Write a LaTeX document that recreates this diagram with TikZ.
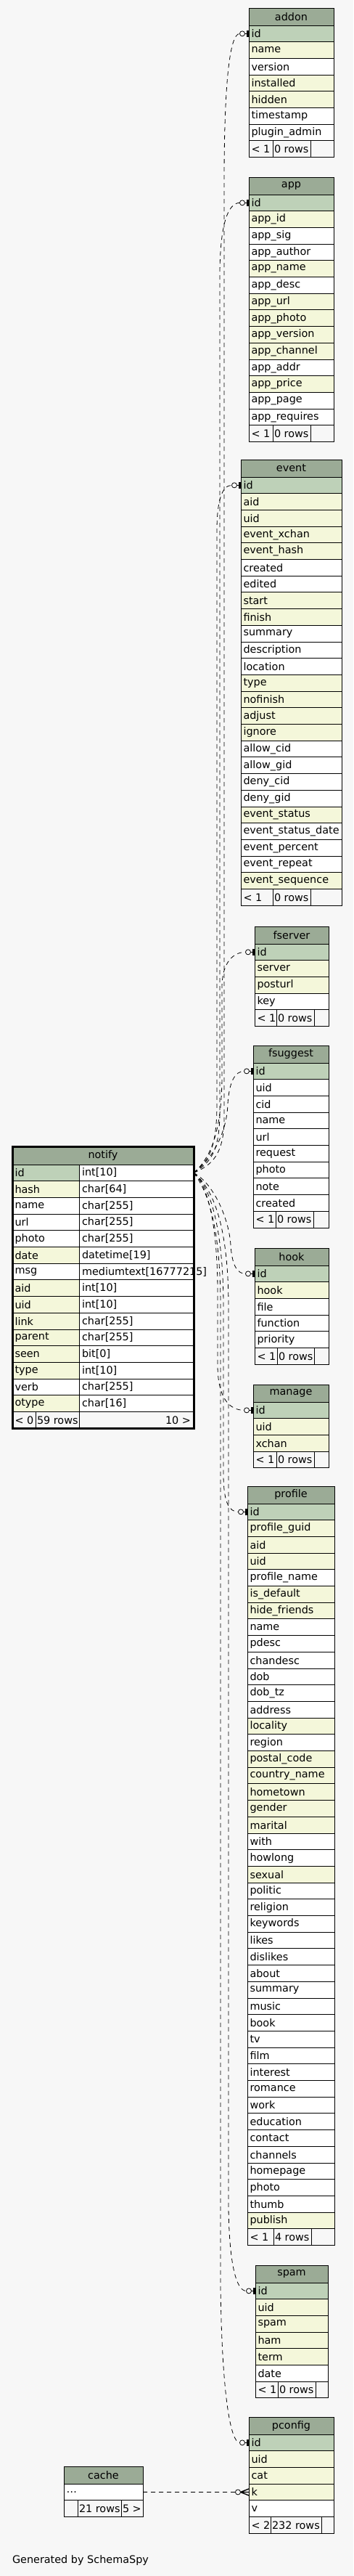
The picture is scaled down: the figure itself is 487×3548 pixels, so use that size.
\documentclass[tikz,border=0pt]{standalone}
\usepackage{fontspec}
\setmainfont{DejaVu Sans}
\usetikzlibrary{calc}
\definecolor{bgc}{HTML}{F7F7F7}
\definecolor{hdrc}{HTML}{9BAB96}
\definecolor{pkc}{HTML}{BED1B8}
\definecolor{ixc}{HTML}{F4F7DA}
\tikzset{
  cell/.style={draw=black, line width=0.9pt, rectangle, inner sep=0pt, outer sep=0pt, anchor=north west, minimum height=22.7pt},
  hdr/.style={cell, fill=hdrc, minimum height=24pt},
  pk/.style={cell, fill=pkc},
  ix/.style={cell, fill=ixc},
  pl/.style={cell, fill=white},
  ft/.style={cell, fill=bgc},
  txt/.style={inner sep=0pt, outer sep=0pt, anchor=west, font=\fontsize{14.4}{16}\selectfont, text=black},
  ctxt/.style={txt, anchor=center},
  conn/.style={draw=black, line width=0.8pt, dash pattern=on 6pt off 5pt},
}
\newcommand{\dbtab}[9]{%
  \node[hdr, minimum width=#4pt] (#1) at (#2,#3) {};
  \node[ctxt] (#1-title) at (#1.center) {#1};
  \foreach \lab/\st [count=\i] in {#5} {%
    \pgfmathsetmacro{\yy}{#3+24+(\i-1)*22.7}
    \node[\st, minimum width=#4pt] (#1-\i) at (#2,\yy) {};
    \node[txt] (#1-\i-t) at ([xshift=3.5pt]#1-\i.west) {\lab};
    \xdef\lastrow{\i}
  }
  \pgfmathsetmacro{\yf}{#3+24+\lastrow*22.7}
  \pgfmathsetmacro{\wa}{#6-#2}
  \pgfmathsetmacro{\wb}{#7-#6}
  \pgfmathsetmacro{\wc}{#2+#4-#7}
  \node[ft, minimum width=\wa pt] (#1-fa) at (#2,\yf) {};
  \node[ft, minimum width=\wb pt] (#1-fb) at (#6,\yf) {};
  \node[ft, minimum width=\wc pt] (#1-fc) at (#7,\yf) {};
  \node[txt] (#1-fa-t) at ([xshift=3.5pt]#1-fa.west) {#8};
  \node[txt] (#1-fb-t) at ([xshift=2pt]#1-fb.west) {#9};
}
\newcommand{\onemk}[1]{%
  \draw[line width=0.8pt] ([xshift=-9pt]#1.west) -- (#1.west);
  \draw[line width=0.8pt, fill=white] ([xshift=-9pt]#1.west) circle (3.5pt);
  \draw[line width=2.6pt] ([xshift=-1.6pt,yshift=-4.5pt]#1.west) -- ([xshift=-1.6pt,yshift=4.5pt]#1.west);
}
\begin{document}
\begin{tikzpicture}[x=1pt,y=-1pt]
\useasboundingbox (0,0) rectangle (487,3548);
\fill[bgc] (0,0) rectangle (487,3548);

% tables
\dbtab{addon}{343}{11}{117}{id/pk, name/ix, version/pl, installed/ix, hidden/ix, timestamp/pl, plugin\_admin/pl}{376}{428}{< 1}{0 rows}
\dbtab{app}{343}{244}{117}{id/pk, app\_id/ix, app\_sig/pl, app\_author/pl, app\_name/ix, app\_desc/pl, app\_url/ix, app\_photo/ix, app\_version/ix, app\_channel/ix, app\_addr/pl, app\_price/ix, app\_page/pl, app\_requires/pl}{376}{428}{< 1}{0 rows}
\dbtab{event}{332}{633}{139}{id/pk, aid/ix, uid/ix, event\_xchan/ix, event\_hash/ix, created/pl, edited/pl, start/ix, finish/ix, summary/pl, description/pl, location/pl, type/ix, nofinish/ix, adjust/ix, ignore/ix, allow\_cid/pl, allow\_gid/pl, deny\_cid/pl, deny\_gid/pl, event\_status/ix, event\_status\_date/pl, event\_percent/pl, event\_repeat/pl, event\_sequence/ix}{376}{428}{< 1}{0 rows}
\dbtab{fserver}{351}{1276}{102}{id/pk, server/ix, posturl/ix, key/pl}{381}{433}{< 1}{0 rows}
\dbtab{fsuggest}{349}{1440}{104}{id/pk, uid/pl, cid/pl, name/pl, url/pl, request/pl, photo/pl, note/pl, created/pl}{380}{432}{< 1}{0 rows}
\dbtab{hook}{351}{1719}{102}{id/pk, hook/ix, file/pl, function/pl, priority/pl}{382}{433}{< 1}{0 rows}
\dbtab{manage}{349}{1907}{104}{id/pk, uid/ix, xchan/ix}{381}{433}{< 1}{0 rows}
\dbtab{profile}{341}{2047}{120}{id/pk, profile\_guid/ix, aid/ix, uid/ix, profile\_name/pl, is\_default/ix, hide\_friends/ix, name/pl, pdesc/pl, chandesc/pl, dob/pl, dob\_tz/pl, address/pl, locality/ix, region/pl, postal\_code/ix, country\_name/ix, hometown/ix, gender/ix, marital/ix, with/pl, howlong/pl, sexual/ix, politic/pl, religion/pl, keywords/pl, likes/pl, dislikes/pl, about/pl, summary/pl, music/pl, book/pl, tv/pl, film/pl, interest/pl, romance/pl, work/pl, education/pl, contact/pl, channels/pl, homepage/pl, photo/pl, thumb/pl, publish/ix}{377}{429}{< 1}{4 rows}
\dbtab{spam}{352}{3120}{100}{id/pk, uid/ix, spam/ix, ham/ix, term/ix, date/pl}{383}{435}{< 1}{0 rows}
\dbtab{pconfig}{343}{3329}{117}{id/pk, uid/ix, cat/ix, k/ix, v/pl}{373}{443}{< 2}{232 rows}
\dbtab{cache}{88}{3397}{109}{\ldots/pl}{107}{167}{}{21 rows}
\node[txt] (cache-fc-t) at ([xshift=2pt]cache-fc.west) {5 >};

% notify (focus table)
\node[hdr, minimum width=250pt, minimum height=25pt] (notify) at (17,1579) {};
\node[ctxt] (notify-title) at (notify.center) {notify};
\foreach \lab/\st/\ty [count=\i] in {id/pk/int[10], hash/ix/char[64], name/pl/char[255], url/pl/char[255], photo/pl/char[255], date/ix/datetime[19], msg/pl/mediumtext[16777215], aid/ix/int[10], uid/ix/int[10], link/ix/char[255], parent/ix/char[255], seen/ix/bit[0], type/ix/int[10], verb/pl/char[255], otype/ix/char[16]} {%
  \pgfmathsetmacro{\yy}{1604+(\i-1)*22.7}
  \node[\st, minimum width=92pt] (notify-\i) at (17,\yy) {};
  \node[pl, minimum width=158pt] (notify-\i-ty) at (109,\yy) {};
  \node[txt] (notify-\i-t) at ([xshift=3.5pt]notify-\i.west) {\lab};
  \node[txt] (notify-\i-tt) at ([xshift=4pt]notify-\i-ty.west) {\ty};
}
\node[ft, minimum width=32pt] (notify-fa) at (17,1944.5) {};
\node[ft, minimum width=60pt] (notify-fb) at (49,1944.5) {};
\node[ft, minimum width=158pt] (notify-fc) at (109,1944.5) {};
\node[txt] (notify-fa-t) at ([xshift=3.5pt]notify-fa.west) {< 0};
\node[txt] (notify-fb-t) at ([xshift=2pt]notify-fb.west) {59 rows};
\node[txt, anchor=east] (notify-fc-t) at ([xshift=-4pt]notify-fc.east) {10 >};
\draw[line width=3pt] (notify.north west) rectangle (notify-fc.south east);

% connectors
\draw[conn] (notify-1-ty.east) .. controls (292,1605) and (309,1590) .. (309,1540) -- (309,250) .. controls (309,120) and (316,46.35) .. ([xshift=-12.5pt]addon-1.west);
\draw[conn] (notify-1-ty.east) .. controls (289,1602) and (303,1588) .. (303,1530) -- (303,380) .. controls (303,310) and (314,279.35) .. ([xshift=-12.5pt]app-1.west);
\draw[conn] (notify-1-ty.east) .. controls (286,1600) and (299,1585) .. (299,1520) -- (299,730) .. controls (299,690) and (306,668.35) .. ([xshift=-12.5pt]event-1.west);
\draw[conn] (notify-1-ty.east) .. controls (290,1595) and (306,1560) .. (306,1480) -- (306,1360) .. controls (306,1325) and (322,1311.35) .. ([xshift=-12.5pt]fserver-1.west);
\draw[conn] (notify-1-ty.east) .. controls (292,1598) and (313,1560) .. (314,1520) .. controls (316,1490) and (324,1475.35) .. ([xshift=-12.5pt]fsuggest-1.west);
\draw[conn] (notify-1-ty.east) .. controls (295,1630) and (316,1680) .. (318,1715) .. controls (320,1745) and (328,1754.35) .. ([xshift=-12.5pt]hook-1.west);
\draw[conn] (notify-1-ty.east) .. controls (287,1632) and (300,1690) .. (300,1780) -- (300,1880) .. controls (300,1925) and (316,1942.35) .. ([xshift=-12.5pt]manage-1.west);
\draw[conn] (notify-1-ty.east) .. controls (292,1635) and (308,1700) .. (308,1800) -- (308,2030) .. controls (308,2070) and (316,2082.35) .. ([xshift=-12.5pt]profile-1.west);
\draw[conn] (notify-1-ty.east) .. controls (298,1640) and (315,1700) .. (315,1800) -- (315,3040) .. controls (316,3120) and (326,3155.35) .. ([xshift=-12.5pt]spam-1.west);
\draw[conn] (notify-1-ty.east) .. controls (290,1645) and (304,1700) .. (304,1800) -- (304,3150) .. controls (306,3300) and (318,3364.35) .. ([xshift=-12.5pt]pconfig-1.west);
\draw[conn] (cache-1.east) -- ([xshift=-18.5pt]pconfig-4.west);

% end marks
\onemk{addon-1}
\onemk{app-1}
\onemk{event-1}
\onemk{fserver-1}
\onemk{fsuggest-1}
\onemk{hook-1}
\onemk{manage-1}
\onemk{profile-1}
\onemk{spam-1}
\onemk{pconfig-1}
\draw[line width=0.8pt, fill=white] ([xshift=-15pt]pconfig-4.west) circle (3.5pt);
\draw[line width=1.4pt] ([xshift=-11.5pt]pconfig-4.west) -- ([yshift=4.5pt]pconfig-4.west)
  ([xshift=-11.5pt]pconfig-4.west) -- (pconfig-4.west)
  ([xshift=-11.5pt]pconfig-4.west) -- ([yshift=-4.5pt]pconfig-4.west);

\node[txt] (gen) at (17,3526) {Generated by SchemaSpy};
\end{tikzpicture}
\end{document}
